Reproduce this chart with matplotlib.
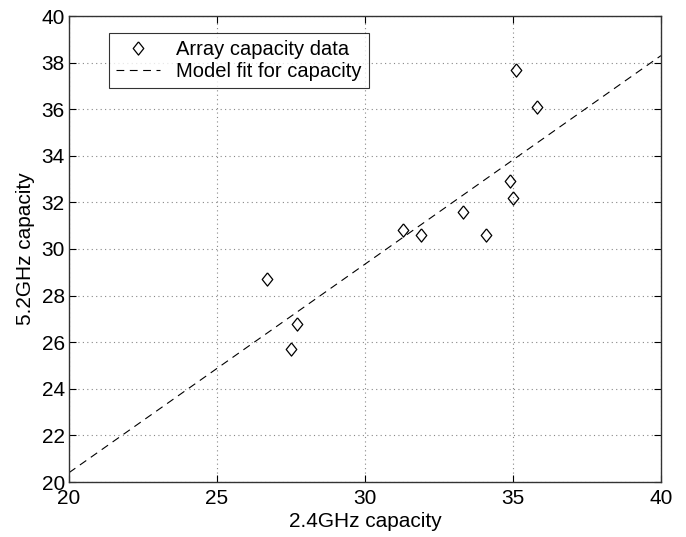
import numpy as np
import matplotlib
matplotlib.use('Agg')
import matplotlib.pyplot as plt

plt.rcParams['font.family'] = ['Liberation Sans', 'DejaVu Sans']

cap_24 = [26.7, 27.5, 27.7, 31.3, 31.9, 33.3, 34.1, 34.9, 35.0, 35.1, 35.8]
cap_52 = [28.7, 25.7, 26.8, 30.8, 30.6, 31.6, 30.6, 32.9, 32.2, 37.7, 36.1]
fit_slope = 0.895
fit_intercept = 2.5
fit_x = [20, 40]

fig = plt.figure(figsize=(6.86, 5.37), dpi=100)
ax = fig.add_axes([69 / 686, 1 - 482 / 537, (661 - 69) / 686, (482 - 16) / 537])

diamond = [(0, 1), (0.8, 0), (0, -1), (-0.8, 0), (0, 1)]
ax.plot(cap_24, cap_52, linestyle='none', marker=diamond, markersize=9.5,
        markerfacecolor='none', markeredgecolor='black', markeredgewidth=0.9,
        label='Array capacity data')
fx = np.array(fit_x)
ax.plot(fx, fit_intercept + fit_slope * fx, color='black', linestyle=(0, (7, 5)),
        linewidth=0.8, label='Model fit for capacity')

ax.set_xlim(20, 40)
ax.set_ylim(20, 40)
ax.set_xticks([20, 25, 30, 35, 40])
ax.set_yticks(np.arange(20, 41, 2))
ax.grid(True, linestyle=(0, (1, 3)), color='#888888', linewidth=0.8)
ax.tick_params(direction='in', top=True, right=True, labelsize=15, length=5)
ax.tick_params(axis='x', pad=5)
ax.tick_params(axis='y', pad=3)
for s in ax.spines.values():
    s.set_linewidth(1.0)
    s.set_color('#333333')

ax.set_xlabel('2.4GHz capacity', fontsize=15, labelpad=3)
ax.set_ylabel('5.2GHz capacity', fontsize=15, labelpad=5)

leg = ax.legend(loc='upper left', bbox_to_anchor=((109 - 69) / 592, 1 - (33 - 16) / 466),
                fontsize=14.5, frameon=True, fancybox=False, edgecolor='black',
                borderpad=0.35, labelspacing=0.15, handlelength=2.2, borderaxespad=0)
leg.get_frame().set_linewidth(0.8)

fig.savefig('out.png', dpi=100)
